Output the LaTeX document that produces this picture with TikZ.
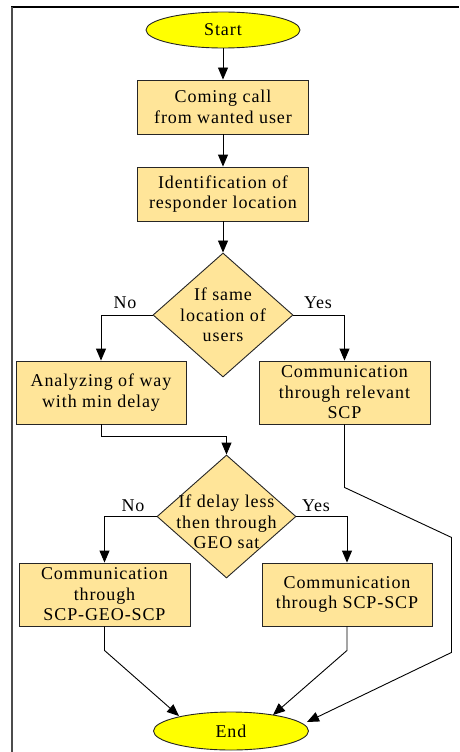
\documentclass[tikz,border=0pt]{standalone}
\usepackage{fontspec}
\setmainfont{Liberation Serif}[LetterSpace=5]
\usetikzlibrary{shapes.geometric,arrows.meta}
\definecolor{boxfill}{RGB}{255,229,153}
\definecolor{termfill}{RGB}{255,255,0}
\newcommand\dgfont{\fontsize{18pt}{20.5pt}\selectfont}
\begin{document}
\begin{tikzpicture}[x=1pt,y=-1pt,
  box/.style={draw=black!85, line width=0.9pt, fill=boxfill, inner sep=0pt, align=center, font=\dgfont},
  term/.style={ellipse, draw=black!85, line width=0.9pt, fill=termfill, inner sep=0pt, font=\dgfont},
  decision/.style={diamond, draw=black!85, line width=0.9pt, fill=boxfill, inner sep=0pt},
  dtext/.style={align=center, font=\dgfont, inner sep=0pt},
  lbl/.style={font=\dgfont, inner sep=0pt},
  arr/.style={draw=black, line width=0.9pt, -{Triangle[length=12pt,width=10pt]}},
  conn/.style={draw=black, line width=0.9pt}]
\useasboundingbox (0,0) rectangle (460,752);
% frame
\draw[line width=2pt] (11,7.5) -- (459,7.5);
\draw[line width=1.5pt, black!70] (12,7.5) -- (12,752);
% nodes
\node[term, minimum width=154pt, minimum height=36pt] (s) at (223,30) {Start};
\node[box, minimum width=171pt, minimum height=54pt] (b1) at (223,107) {Coming call\\from wanted user};
\node[box, minimum width=171pt, minimum height=54pt] (b2) at (223,194) {Identification of\\responder location};
\node[decision, minimum width=140pt, minimum height=124pt] (d1) at (223,315) {};
\node[dtext] (d1t) at (223,315) {If same\\location of\\users};
\node[box, minimum width=170pt, minimum height=63pt] (b3) at (101,392.5) {Analyzing of way\\with min delay};
\node[box, minimum width=171pt, minimum height=63pt] (b4) at (344.5,392.5) {Communication\\through relevant\\SCP};
\node[decision, minimum width=139pt, minimum height=123pt] (d2) at (226.5,516.5) {};
\node[dtext] (d2t) at (226.5,522) {If delay less\\then through\\GEO sat};
\node[box, minimum width=171pt, minimum height=63pt] (b5) at (104.5,594.5) {Communication\\through\\SCP-GEO-SCP};
\node[box, minimum width=170pt, minimum height=63pt] (b6) at (347,594.5) {Communication\\through SCP-SCP};
\node[term, minimum width=155pt, minimum height=38pt] (e) at (231,731) {End};
% labels
\node[lbl] (no1) at (125,303) {No};
\node[lbl] (yes1) at (318,303) {Yes};
\node[lbl] (no2) at (133,506) {No};
\node[lbl] (yes2) at (316,506) {Yes};
% arrow targets on End
\coordinate (t1) at (179,716);
\coordinate (t2) at (273,715);
\coordinate (t3) at (307,722);
% connectors
\draw[arr] (s) -- (b1);
\draw[arr] (b1) -- (b2);
\draw[arr] (b2) -- (d1);
\draw[arr] (d1.west) -| (b3.north);
\draw[arr] (d1.east) -| (b4.north);
\draw[arr] (b3.south) -- ++(0,12) -| (d2.north);
\draw[arr] (d2.west) -| (b5.north);
\draw[arr] (d2.east) -| (b6.north);
\draw[arr] (b5.south) -- ++(0,24) -- (t1);
\draw[arr] (b6.south) -- ++(0,24) -- (t2);
\draw[arr] (b4.south) -- ++(0,63) -- ++(107,50) -- ++(0,115) -- (t3);
\end{tikzpicture}
\end{document}
